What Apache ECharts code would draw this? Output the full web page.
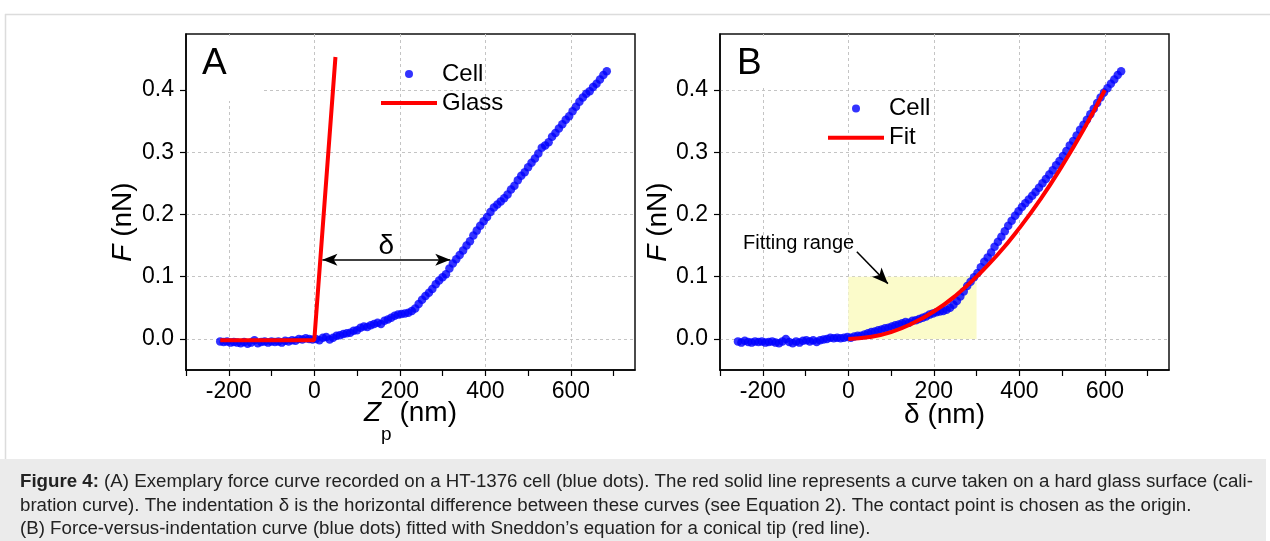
<!DOCTYPE html>
<html><head><meta charset="utf-8">
<script src="https://cdn.jsdelivr.net/npm/echarts@6/dist/echarts.min.js"></script>
<style>html,body{margin:0;padding:0;background:#fff}#c{width:1270px;height:541px}</style>
</head><body><div id="c"></div><script>
// ---------- data ----------
const xTickLabels = [-200, 0, 200, 400, 600];
const yTickValues = [0, 0.1, 0.2, 0.3, 0.4];

// Panel A: cell force curve (Zp nm, F nN)
const cellA = [
[-220,-0.004],[-212,-0.005],[-204,-0.004],[-196,-0.006],[-188,-0.005],[-180,-0.006],[-172,-0.007],[-164,-0.005],
[-156,-0.008],[-148,-0.006],[-140,-0.002],[-132,-0.007],[-124,-0.005],[-116,-0.004],[-108,-0.006],[-100,-0.004],
[-92,-0.005],[-84,-0.004],[-76,-0.006],[-68,-0.003],[-60,-0.004],[-52,-0.002],[-44,-0.003],[-36,0.000],
[-28,-0.001],[-20,0.001],[-12,0.000],[-4,-0.001],[4,0.000],[12,-0.002],[20,0.002],[28,0.003],
[36,-0.001],[44,0.002],[52,0.005],[60,0.006],[68,0.008],[76,0.009],[84,0.010],[92,0.013],
[100,0.014],[108,0.018],[116,0.020],[124,0.019],[132,0.022],[140,0.024],[148,0.026],[156,0.024],
[164,0.029],[172,0.031],[180,0.034],[188,0.037],[196,0.039],[204,0.040],[212,0.041],[220,0.042],
[228,0.045],[236,0.049],[244,0.056],[252,0.063],[260,0.069],[268,0.074],[276,0.080],[284,0.088],
[292,0.094],[300,0.099],[308,0.104],[316,0.113],[324,0.121],[332,0.128],[340,0.135],[348,0.142],
[356,0.150],[364,0.157],[372,0.166],[380,0.174],[388,0.182],[396,0.189],[404,0.196],[412,0.204],
[420,0.211],[428,0.216],[436,0.221],[444,0.226],[452,0.232],[460,0.240],[468,0.246],[476,0.255],
[484,0.262],[492,0.268],[500,0.276],[508,0.283],[516,0.290],[524,0.298],[532,0.307],[540,0.311],
[548,0.316],[556,0.325],[564,0.331],[572,0.338],[580,0.345],[588,0.352],[596,0.358],[604,0.366],
[612,0.373],[620,0.381],[628,0.388],[636,0.394],[644,0.398],[652,0.405],[660,0.410],[668,0.417],
[676,0.424],[684,0.430]
];
// Panel A: glass calibration curve
const glassA = [[-220,-0.002],[0,-0.002],[49.5,0.453]];

// Panel B: force vs indentation (delta nm, F nN)
const cellB = [
[-258,-0.004],[-250,-0.006],[-242,-0.003],[-234,-0.005],[-226,-0.006],[-218,-0.004],[-210,-0.005],[-202,-0.004],
[-194,-0.006],[-186,-0.005],[-178,-0.004],[-170,-0.006],[-162,-0.007],[-154,-0.004],[-146,0.000],[-138,-0.005],
[-130,-0.007],[-122,-0.004],[-114,-0.006],[-106,-0.003],[-98,-0.002],[-90,-0.004],[-82,-0.002],[-74,-0.005],
[-66,-0.002],[-58,-0.001],[-50,0.000],[-42,0.002],[-34,0.001],[-26,0.002],[-18,0.001],[-10,0.002],
[-2,0.003],[6,0.002],[14,0.004],[22,0.005],[30,0.005],[38,0.007],[46,0.009],[54,0.011],
[62,0.012],[70,0.014],[78,0.015],[86,0.017],[94,0.018],[102,0.020],[110,0.022],[118,0.023],
[126,0.025],[134,0.027],[142,0.026],[150,0.029],[158,0.030],[166,0.032],[174,0.034],[182,0.036],
[190,0.039],[198,0.041],[206,0.043],[214,0.044],[222,0.045],[230,0.047],[238,0.050],[246,0.055],
[254,0.061],[262,0.068],[270,0.076],[278,0.085],[286,0.092],[294,0.099],[302,0.106],[310,0.115],
[318,0.124],[326,0.131],[334,0.139],[342,0.148],[350,0.156],[358,0.164],[366,0.173],[374,0.182],
[382,0.190],[390,0.198],[398,0.205],[406,0.212],[414,0.218],[422,0.224],[430,0.230],[438,0.236],
[446,0.243],[454,0.250],[462,0.257],[470,0.264],[478,0.271],[486,0.279],[494,0.286],[502,0.294],
[510,0.302],[518,0.311],[526,0.318],[534,0.327],[542,0.336],[550,0.344],[558,0.352],[566,0.361],
[574,0.370],[582,0.379],[590,0.388],[598,0.396],[606,0.403],[614,0.410],[622,0.417],[630,0.424],
[638,0.430]
];
// Panel B: Sneddon fit
const fitB = [[0,0],[50,0.003],[100,0.011],[150,0.025],[200,0.044],[250,0.069],[300,0.100],
[350,0.136],[400,0.178],[450,0.225],[500,0.278],[550,0.336],[600,0.400]];

// annotations
const deltaArrow = [[19,0.127],[318,0.127]];
const fitRange = [[0,0],[300,0.1]];
const fitRangeArrow = [[20,0.14],[92.6,0.0888]];
const fitRangeLabelAt = [15,0.153];

const captionLines = [
 '{b|Figure 4:} (A) Exemplary force curve recorded on a HT-1376 cell (blue dots). The red solid line represents a curve taken on a hard glass surface (cali-',
 'bration curve). The indentation \u03b4 is the horizontal difference between these curves (see Equation 2). The contact point is chosen as the origin.',
 '(B) Force-versus-indentation curve (blue dots) fitted with Sneddon\u2019s equation for a conical tip (red line).'
];

// ---------- chart ----------
const FF = "'Liberation Sans', Arial, Helvetica, sans-serif";
const BLUE = '#0000ff', RED = '#ff0000';
const gridDash = {color:'#c4c4c4', width:1, type:[3,3]};
const LINE_ICON = 'path://M0,0L56,0L56,4L0,4Z';
const CAP = 18.7;
const TICKF = 23;

function mainX(gi, name, nameGap, rich){
  return {type:'value', gridIndex:gi, min:-300, max:750, interval:100, position:'bottom',
    axisLine:{onZero:false, lineStyle:{color:'#000', width:1.5}},
    axisTick:{show:true, inside:false, length:6, lineStyle:{color:'#000', width:1.2}},
    axisLabel:{formatter:v=> xTickLabels.includes(v) ? String(v) : '', fontSize:TICKF, color:'#000', margin:10, fontFamily:FF, showMaxLabel:false},
    splitLine:{show:false},
    name:name, nameLocation:'middle', nameGap:nameGap, nameMoveOverlap:false,
    nameTextStyle:{fontSize:28, color:'#000', fontFamily:FF, lineHeight:30, rich:rich}
  };
}
function helperX(gi){
  return {type:'value', gridIndex:gi, min:-300, max:750, position:'top',
    axisLine:{show:false}, axisTick:{show:false, customValues:xTickLabels},
    axisLabel:{show:false, customValues:xTickLabels},
    splitLine:{show:true, lineStyle:gridDash}};
}
function mainY(gi){
  return {type:'value', gridIndex:gi, min:-0.05, max:0.49,
    axisLine:{onZero:false, lineStyle:{color:'#000', width:1.5}},
    axisTick:{show:true, length:6, customValues:yTickValues, lineStyle:{color:'#000', width:1.2}},
    axisLabel:{customValues:yTickValues, formatter:v=>v.toFixed(1), fontSize:TICKF, color:'#000', margin:12, fontFamily:FF},
    splitLine:{show:true, lineStyle:gridDash}};
}
const richZ = {
  i:{fontStyle:'italic', fontSize:28, fontFamily:FF, color:'#000', lineHeight:30},
  n:{fontSize:28, fontFamily:FF, color:'#000', lineHeight:30},
  s:{fontSize:19, fontFamily:FF, color:'#000', lineHeight:30, padding:[44,0,0,0]}
};
const legendText = {fontSize:24, color:'#000', fontFamily:FF, lineHeight:24};

const option = {
  animation:false,
  backgroundColor:'#fff',
  grid:[
    {left:186, top:34, width:449, height:336, show:true, borderColor:'#111', borderWidth:1.5, backgroundColor:'#fff'},
    {left:720, top:34, width:449, height:336, show:true, borderColor:'#111', borderWidth:1.5, backgroundColor:'#fff'}
  ],
  xAxis:[ mainX(0,'{i|Z}{s|p}{n| (nm)}',28,richZ), helperX(0), mainX(1,'\u03b4 (nm)',30,null), helperX(1) ],
  yAxis:[ mainY(0), mainY(1) ],
  legend:[
    {orient:'vertical', left:381, top:62, padding:0, itemWidth:56, itemHeight:8, itemGap:5, selectedMode:false,
     textStyle:legendText, itemTextGap:6,
     data:[{name:'Cell', icon:'circle'}, {name:'Glass', icon:LINE_ICON}]},
    {orient:'vertical', left:828, top:96.5, padding:0, itemWidth:56, itemHeight:8, itemGap:5.3, selectedMode:false,
     textStyle:legendText, itemTextGap:6,
     data:[{name:'Cell', icon:'circle'}, {name:'Fit', icon:LINE_ICON}]}
  ],
  series:[
    {name:'Cell', type:'scatter', xAxisIndex:0, yAxisIndex:0, data:cellA, symbolSize:8.5,
     itemStyle:{color:BLUE}, z:2,
     markLine:{silent:true, symbol:['arrow','arrow'], symbolSize:[9,15],
       lineStyle:{color:'#000', width:1.5, type:'solid'},
       label:{show:true, position:'middle', formatter:'\u03b4', fontSize:28, color:'#000', fontFamily:FF, distance:0},
       data:[[{coord:deltaArrow[0]},{coord:deltaArrow[1]}]]}},
    {name:'Glass', type:'line', xAxisIndex:0, yAxisIndex:0, data:glassA, symbol:'none',
     lineStyle:{color:RED, width:4}, itemStyle:{color:RED}, z:3},
    {name:'range', type:'line', xAxisIndex:2, yAxisIndex:1, data:[], z:1,
     markArea:{silent:true, itemStyle:{color:'#fbfbca'}, data:[[{coord:fitRange[0]},{coord:fitRange[1]}]]}},
    {name:'Cell', type:'scatter', xAxisIndex:2, yAxisIndex:1, data:cellB, symbolSize:8.5,
     itemStyle:{color:BLUE}, z:2,
     markLine:{silent:true, symbol:['none','arrow'], symbolSize:[10,16],
       lineStyle:{color:'#000', width:1.5, type:'solid'}, label:{show:false},
       data:[[{coord:fitRangeArrow[0]},{coord:fitRangeArrow[1]}]]},
     markPoint:{silent:true, symbol:'circle', symbolSize:1, itemStyle:{color:'rgba(0,0,0,0)'},
       label:{show:true, position:'left', distance:0, formatter:'Fitting range', fontSize:20, color:'#000', fontFamily:FF},
       data:[{coord:fitRangeLabelAt}]}},
    {name:'Fit', type:'line', xAxisIndex:2, yAxisIndex:1, data:fitB, smooth:true, symbol:'none',
     lineStyle:{color:RED, width:4}, itemStyle:{color:RED}, z:3}
  ],
  graphic:[
    {type:'line', z:0, shape:{x1:5,y1:14.5,x2:1270,y2:14.5}, style:{stroke:'#dcdcdc', lineWidth:1.5}},
    {type:'line', z:0, shape:{x1:5.5,y1:14,x2:5.5,y2:460}, style:{stroke:'#dcdcdc', lineWidth:1.5}},
    {type:'rect', z:0, shape:{x:0,y:459,width:1266,height:82}, style:{fill:'#ebebeb'}},
    {type:'rect', z:1, shape:{x:187,y:36,width:74,height:65}, style:{fill:'#fff'}},
    {type:'rect', z:1, shape:{x:721,y:36,width:90,height:49}, style:{fill:'#fff'}},
    {type:'text', z:10, x:202, y:64, style:{text:'A', font:'37px '+FF, fill:'#000', verticalAlign:'middle'}},
    {type:'text', z:10, x:737, y:64, style:{text:'B', font:'37px '+FF, fill:'#000', verticalAlign:'middle'}},
    {type:'text', z:10, x:123, y:222, rotation:Math.PI/2,
     style:{text:'{i|F} (nN)', font:'28px '+FF, fill:'#000', align:'center', verticalAlign:'middle',
            rich:{i:{fontStyle:'italic', fontSize:28, fontFamily:FF, fill:'#000'}}}},
    {type:'text', z:10, x:658, y:222, rotation:Math.PI/2,
     style:{text:'{i|F} (nN)', font:'28px '+FF, fill:'#000', align:'center', verticalAlign:'middle',
            rich:{i:{fontStyle:'italic', fontSize:28, fontFamily:FF, fill:'#000'}}}},
    {type:'text', z:10, x:20, y:482, style:{text:captionLines[0], font:CAP+'px '+FF, fill:'#222', verticalAlign:'middle',
            rich:{b:{fontWeight:'bold', fontSize:CAP, fontFamily:FF, fill:'#222'}}}},
    {type:'text', z:10, x:20, y:506, style:{text:captionLines[1], font:CAP+'px '+FF, fill:'#222', verticalAlign:'middle'}},
    {type:'text', z:10, x:20, y:529, style:{text:captionLines[2], font:CAP+'px '+FF, fill:'#222', verticalAlign:'middle'}}
  ]
};
const chart = echarts.init(document.getElementById('c'), null, {renderer:'canvas'});
chart.setOption(option);
</script></body></html>
